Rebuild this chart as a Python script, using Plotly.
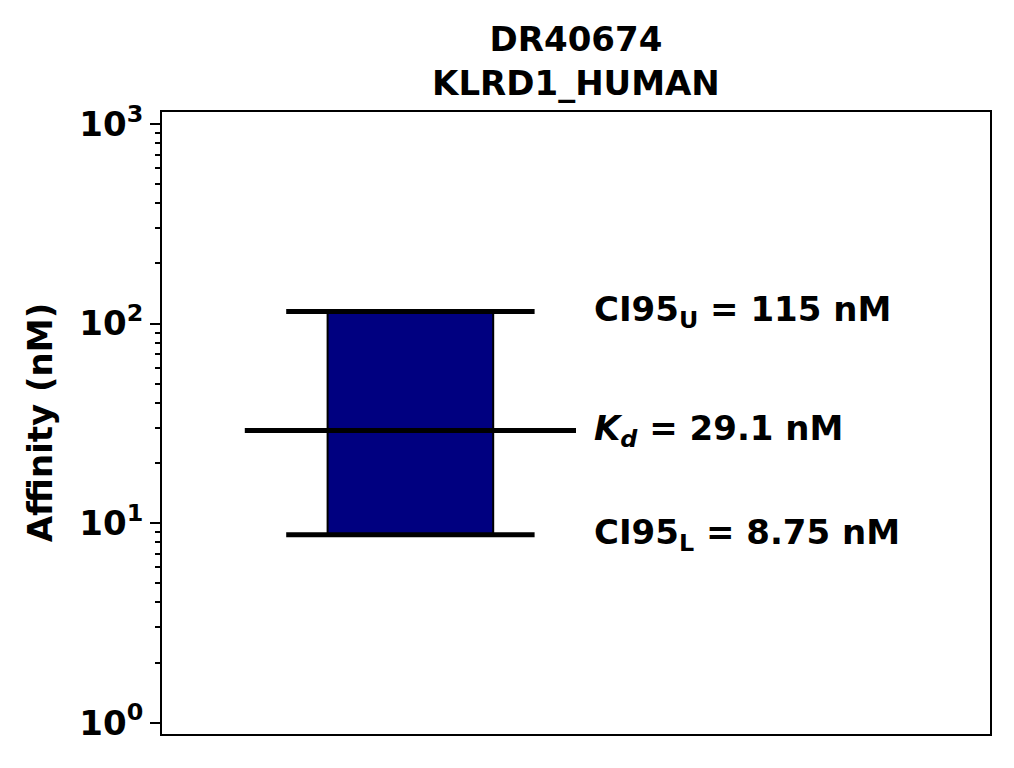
import math
import plotly.graph_objects as go

# Data
kd = 29.1
ci_lower = 8.75
ci_upper = 115.0
title_lines = ["DR40674", "KLRD1_HUMAN"]
y_title = "Affinity (nM)"
tick_vals = [1, 10, 100, 1000]
tick_text = ["10<sup>0</sup>", "10<sup>1</sup>", "10<sup>2</sup>", "10<sup>3</sup>"]
minor_vals = [m * 10 ** e for e in range(0, 3) for m in range(2, 10)]

FONT = "DejaVu Sans"
FS = 34
fig = go.Figure()

# CI box
fig.add_trace(go.Scatter(
    x=[0.2, 0.4, 0.4, 0.2, 0.2],
    y=[ci_lower, ci_lower, ci_upper, ci_upper, ci_lower],
    mode="lines", fill="toself", fillcolor="#000080",
    line=dict(color="black", width=2), hoverinfo="skip", showlegend=False))

# CI lines
for v in (ci_lower, ci_upper):
    fig.add_trace(go.Scatter(x=[0.15, 0.45], y=[v, v], mode="lines",
                             line=dict(color="black", width=5), showlegend=False))
# Kd line
fig.add_trace(go.Scatter(x=[0.1, 0.5], y=[kd, kd], mode="lines",
                         line=dict(color="black", width=5), showlegend=False))

labels = [
    (ci_upper, f"CI95<sub>U</sub> = {ci_upper:g} nM"),
    (kd, f"<i>K<sub>d</sub></i> = {kd:g} nM"),
    (ci_lower, f"CI95<sub>L</sub> = {ci_lower:g} nM"),
]
for yv, txt in labels:
    fig.add_annotation(x=0.519, y=math.log10(yv), xref="x", yref="y", yanchor="middle",
                       text=txt, showarrow=False, xanchor="left",
                       font=dict(family=FONT, size=FS, color="black", weight="bold"))

# y-axis title
fig.add_annotation(x=-0.147, y=0.5, xref="paper", yref="paper", text=y_title,
                   textangle=-90, showarrow=False, xanchor="center", yanchor="middle",
                   font=dict(family=FONT, size=FS, color="black", weight="bold"))

fig.update_layout(
    width=1014, height=768,
    margin=dict(l=162, r=24, t=112, b=34),
    paper_bgcolor="white", plot_bgcolor="white",
    title=dict(text="<br>".join(title_lines), x=0.568, xanchor="center",
               yref="container", y=1 - 51 / 768, yanchor="middle",
               font=dict(family=FONT, size=FS, color="black", weight="bold"),
               ),
    xaxis=dict(range=[0, 1], showgrid=False, zeroline=False, showticklabels=False,
               ticks="", showline=True, linecolor="black", linewidth=2, mirror=True,
               automargin=False),
    yaxis=dict(type="log", range=[-0.057, 3.06], showgrid=False, zeroline=False,
               tickmode="array", tickvals=tick_vals, ticktext=tick_text,
               ticks="outside", ticklen=10,
               tickwidth=2, tickcolor="black", automargin=False,
               showline=True, linecolor="black", linewidth=2, mirror=True,
               tickfont=dict(family=FONT, size=FS, color="black", weight="bold"),
               minor=dict(tickmode="array", tickvals=minor_vals, ticks="outside",
                          ticklen=5, tickwidth=1.5, tickcolor="black", showgrid=False)),
)

fig.write_html("out.html", config={"displayModeBar": False},
               post_script="document.body.style.margin='0px';")
